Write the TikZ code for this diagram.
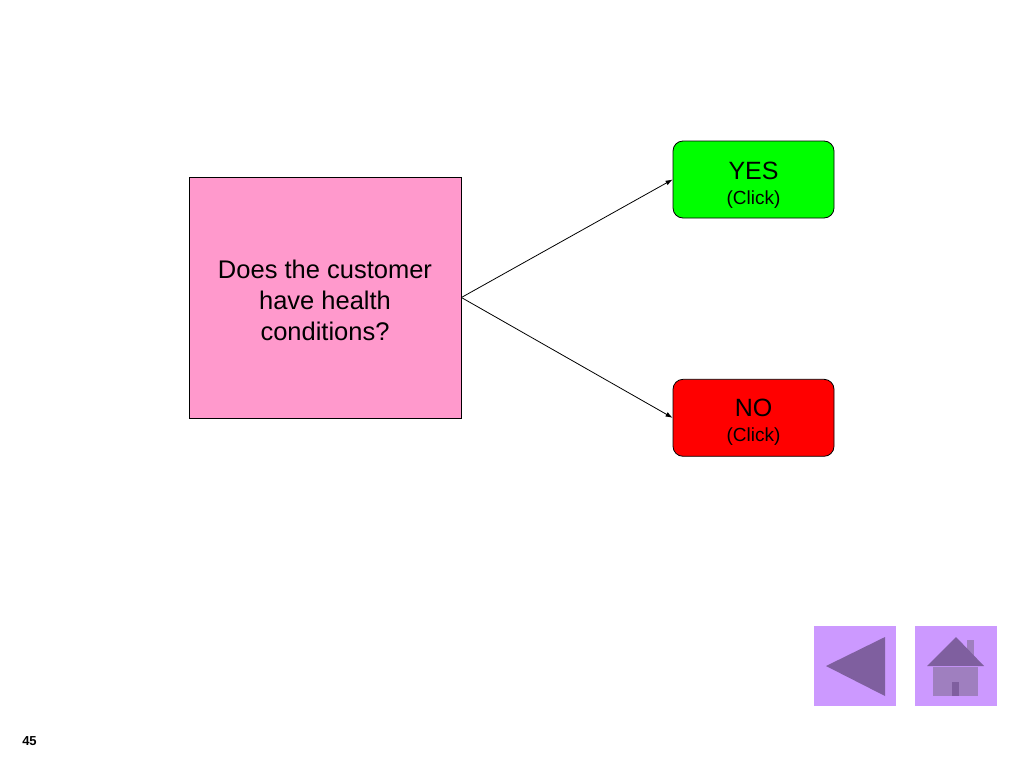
\documentclass[tikz,border=0pt]{standalone}
\usepackage{fontspec}
\setmainfont{Liberation Sans}
\usetikzlibrary{arrows.meta,positioning}

\definecolor{pinkfill}{RGB}{255,153,204}
\definecolor{yesfill}{RGB}{0,255,0}
\definecolor{nofill}{RGB}{255,0,0}
\definecolor{navfill}{RGB}{204,153,255}
\definecolor{navdark}{RGB}{127,95,159}
\definecolor{navmid}{RGB}{159,127,191}

\begin{document}
\begin{tikzpicture}[x=1pt,y=-1pt,
  question/.style={draw,line width=0.8pt,fill=pinkfill,minimum width=272pt,minimum height=241pt,
    align=center,font=\fontsize{25.5}{31}\selectfont},
  answer/.style={draw,line width=0.8pt,rounded corners=10pt,minimum width=161pt,minimum height=77pt,
    align=center,font=\fontsize{25}{25}\selectfont},
  navbutton/.style={fill=navfill,minimum width=82pt,minimum height=80pt,inner sep=0pt},
  link/.style={-{Latex[length=7pt,width=5pt]},line width=0.8pt}]
  \useasboundingbox (0,0) rectangle (1024,768);

  \node[question]              (health) at (325,297.5)  {\rule{0pt}{24.5pt}Does the customer\\have health\\conditions?};
  \node[answer,fill=yesfill]   (yes)    at (753.5,179.5) {\rule{0pt}{28pt}YES\\{\fontsize{19}{25}\selectfont (Click)}};
  \node[answer,fill=nofill]    (no)     [below=160.5pt of yes] {\rule{0pt}{27pt}NO\\{\fontsize{19}{25}\selectfont (Click)}};

  \draw[link] (health.east) -- (yes.west);
  \draw[link] (health.east) -- (no.west);

  % navigation buttons
  \node[navbutton] (back) at (855,666) {};
  \node[navbutton] (home) [right=19pt of back] {};
  \fill[navdark] (826,666) -- (885,637) -- (885,696) -- cycle;
  \fill[navmid] (933,667) rectangle (978,696);
  \fill[navmid] (967,640) rectangle (974,656);
  \fill[navdark] (927,666) -- (956,637) -- (984,666) -- cycle;
  \fill[navdark] (952,682) rectangle (959,696);

  \node[font=\bfseries\fontsize{13}{13}\selectfont] (page) at (29.5,741) {45};
\end{tikzpicture}
\end{document}
